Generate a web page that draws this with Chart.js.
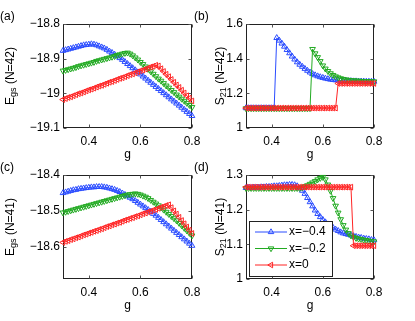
<!DOCTYPE html>
<html><head><meta charset="utf-8">
<script src="https://cdn.jsdelivr.net/npm/chart.js@4.4.1/dist/chart.umd.min.js"></script>
<style>
html,body{margin:0;padding:0;background:#fff;width:415px;height:321px;overflow:hidden}
canvas{position:absolute;left:0;top:0}
</style></head><body>
<canvas id="pa" width="415" height="321"></canvas>
<canvas id="pb" width="415" height="321"></canvas>
<canvas id="pc" width="415" height="321"></canvas>
<canvas id="pd" width="415" height="321"></canvas>
<script>
const gValues = [0.30,0.31,0.32,0.33,0.34,0.35,0.36,0.37,0.38,0.39,0.40,0.41,0.42,0.43,0.44,0.45,0.46,0.47,0.48,0.49,0.50,0.51,0.52,0.53,0.54,0.55,0.56,0.57,0.58,0.59,0.60,0.61,0.62,0.63,0.64,0.65,0.66,0.67,0.68,0.69,0.70,0.71,0.72,0.73,0.74,0.75,0.76,0.77,0.78,0.79,0.80];
const xTicks = [0.4,0.6,0.8];
const seriesLabels = ['x=\u22120.4','x=\u22120.2','x=0'];

// (a) E_gs, N=42
const aBlue = [-18.877,-18.875,-18.873,-18.871,-18.869,-18.867,-18.865,-18.863,-18.861,-18.860,-18.859,-18.858,-18.859,-18.861,-18.864,-18.867,-18.870,-18.874,-18.879,-18.883,-18.888,-18.893,-18.898,-18.903,-18.909,-18.915,-18.921,-18.927,-18.933,-18.939,-18.945,-18.951,-18.957,-18.963,-18.969,-18.975,-18.981,-18.987,-18.993,-18.999,-19.005,-19.011,-19.017,-19.023,-19.029,-19.035,-19.041,-19.047,-19.053,-19.059,-19.065];
const aGreen = [-18.935,-18.933,-18.931,-18.929,-18.927,-18.925,-18.922,-18.920,-18.918,-18.916,-18.914,-18.912,-18.910,-18.907,-18.905,-18.903,-18.901,-18.899,-18.897,-18.895,-18.893,-18.890,-18.888,-18.886,-18.884,-18.883,-18.886,-18.891,-18.897,-18.903,-18.910,-18.916,-18.923,-18.930,-18.937,-18.944,-18.951,-18.958,-18.964,-18.971,-18.978,-18.984,-18.991,-18.997,-19.004,-19.010,-19.016,-19.022,-19.028,-19.034,-19.040];
const aRed = [-19.018,-19.015,-19.012,-19.010,-19.007,-19.004,-19.001,-18.999,-18.996,-18.993,-18.990,-18.988,-18.985,-18.982,-18.979,-18.977,-18.974,-18.971,-18.968,-18.966,-18.963,-18.960,-18.957,-18.955,-18.952,-18.949,-18.946,-18.944,-18.941,-18.938,-18.935,-18.933,-18.930,-18.927,-18.924,-18.922,-18.919,-18.921,-18.929,-18.937,-18.945,-18.952,-18.960,-18.968,-18.976,-18.983,-18.991,-18.999,-19.007,-19.014,-19.022];
const aTicks = [-18.8,-18.9,-19,-19.1];

// (b) S_21, N=42
const bBlue = [1.115,1.115,1.115,1.115,1.115,1.115,1.115,1.115,1.115,1.115,1.115,1.115,1.520,1.505,1.488,1.470,1.451,1.432,1.413,1.396,1.380,1.366,1.354,1.342,1.331,1.321,1.312,1.305,1.299,1.294,1.290,1.286,1.283,1.280,1.278,1.276,1.275,1.274,1.273,1.272,1.271,1.271,1.270,1.270,1.269,1.269,1.269,1.268,1.268,1.268,1.268];
const bGreen = [1.113,1.113,1.113,1.113,1.113,1.113,1.113,1.113,1.113,1.113,1.113,1.113,1.113,1.113,1.113,1.113,1.113,1.113,1.113,1.113,1.113,1.113,1.113,1.113,1.113,1.113,1.455,1.430,1.408,1.385,1.360,1.342,1.328,1.315,1.305,1.297,1.291,1.286,1.282,1.279,1.277,1.275,1.274,1.273,1.272,1.271,1.270,1.270,1.269,1.269,1.268];
const bRed = [1.115,1.115,1.115,1.115,1.115,1.115,1.115,1.115,1.115,1.115,1.115,1.115,1.115,1.115,1.115,1.115,1.115,1.115,1.115,1.115,1.115,1.115,1.115,1.115,1.115,1.115,1.115,1.115,1.115,1.115,1.115,1.115,1.115,1.115,1.115,1.115,1.257,1.257,1.257,1.257,1.257,1.257,1.257,1.257,1.257,1.257,1.257,1.257,1.257,1.257,1.257];
const bTicks = [1,1.2,1.4,1.6];

// (c) E_gs, N=41
const cBlue = [-18.450,-18.448,-18.446,-18.444,-18.442,-18.441,-18.439,-18.438,-18.437,-18.436,-18.435,-18.434,-18.434,-18.433,-18.433,-18.433,-18.434,-18.435,-18.437,-18.439,-18.441,-18.444,-18.447,-18.451,-18.455,-18.459,-18.463,-18.467,-18.472,-18.477,-18.482,-18.487,-18.492,-18.497,-18.502,-18.508,-18.513,-18.519,-18.525,-18.531,-18.537,-18.543,-18.549,-18.555,-18.561,-18.567,-18.573,-18.579,-18.585,-18.591,-18.597];
const cGreen = [-18.505,-18.503,-18.501,-18.499,-18.497,-18.495,-18.493,-18.491,-18.489,-18.487,-18.485,-18.483,-18.481,-18.479,-18.477,-18.475,-18.473,-18.471,-18.469,-18.467,-18.465,-18.463,-18.461,-18.459,-18.457,-18.455,-18.454,-18.453,-18.452,-18.453,-18.455,-18.458,-18.461,-18.465,-18.470,-18.475,-18.480,-18.485,-18.491,-18.497,-18.503,-18.509,-18.515,-18.521,-18.527,-18.534,-18.541,-18.548,-18.555,-18.562,-18.569];
const cRed = [-18.588,-18.585,-18.583,-18.580,-18.578,-18.575,-18.573,-18.570,-18.567,-18.565,-18.562,-18.560,-18.557,-18.555,-18.552,-18.550,-18.547,-18.544,-18.542,-18.539,-18.537,-18.534,-18.532,-18.529,-18.526,-18.524,-18.521,-18.519,-18.516,-18.514,-18.511,-18.508,-18.506,-18.503,-18.501,-18.498,-18.496,-18.493,-18.490,-18.488,-18.485,-18.483,-18.491,-18.500,-18.509,-18.518,-18.527,-18.536,-18.545,-18.554,-18.563];
const cTicks = [-18.4,-18.5,-18.6];

// (d) S_21, N=41
const dBlue = [1.263,1.263,1.263,1.264,1.264,1.264,1.265,1.265,1.266,1.266,1.267,1.268,1.268,1.269,1.270,1.271,1.271,1.272,1.272,1.271,1.268,1.262,1.255,1.246,1.234,1.222,1.210,1.198,1.188,1.179,1.171,1.164,1.158,1.152,1.148,1.143,1.139,1.135,1.132,1.130,1.128,1.126,1.124,1.122,1.120,1.119,1.117,1.116,1.115,1.113,1.112];
const dGreen = [1.262,1.262,1.262,1.262,1.262,1.262,1.262,1.262,1.262,1.262,1.262,1.262,1.262,1.262,1.262,1.262,1.262,1.262,1.262,1.262,1.262,1.262,1.264,1.267,1.270,1.274,1.278,1.282,1.287,1.291,1.294,1.287,1.272,1.254,1.233,1.211,1.191,1.172,1.155,1.142,1.132,1.125,1.121,1.118,1.116,1.115,1.113,1.112,1.110,1.109,1.108];
const dRed = [1.265,1.265,1.265,1.265,1.265,1.265,1.265,1.265,1.265,1.265,1.265,1.265,1.265,1.265,1.265,1.265,1.265,1.265,1.265,1.265,1.265,1.265,1.265,1.265,1.265,1.265,1.265,1.265,1.265,1.265,1.265,1.265,1.265,1.265,1.265,1.265,1.265,1.265,1.265,1.265,1.265,1.265,1.096,1.096,1.096,1.096,1.096,1.096,1.096,1.096,1.096];
const dTicks = [1,1.1,1.2,1.3];

const colors = ['#2a4cff','#22aa22','#ff2424'];
const rotations = [0,180,270];
const FONT = 'Liberation Sans, Arial, Helvetica, sans-serif';
const W = 415, H = 321;

const panels = [
  {id:'pa', area:{left:63,top:24,right:192,bottom:128}, yMin:-19.1, yMax:-18.8, yTicks:aTicks, series:[aBlue,aGreen,aRed], tag:'(a)', tagX:0, yMain:'E', ySub:'gs', yRest:' (N=42)', yTitleX:11, legend:false},
  {id:'pb', area:{left:246,top:24,right:374,bottom:128}, yMin:1, yMax:1.6, yTicks:bTicks, series:[bBlue,bGreen,bRed], tag:'(b)', tagX:194, yMain:'S', ySub:'21', yRest:' (N=42)', yTitleX:221, legend:false},
  {id:'pc', area:{left:63,top:175,right:192,bottom:279}, yMin:-18.69, yMax:-18.4, yTicks:cTicks, series:[cBlue,cGreen,cRed], tag:'(c)', tagX:0, yMain:'E', ySub:'gs', yRest:' (N=41)', yTitleX:11, legend:false},
  {id:'pd', area:{left:246,top:175,right:374,bottom:279}, yMin:1, yMax:1.3, yTicks:dTicks, series:[dBlue,dGreen,dRed], tag:'(d)', tagX:194, yMain:'S', ySub:'21', yRest:' (N=41)', yTitleX:221, legend:true}
];

function fmt(v){ return String(v).replace('-', '\u2212'); }

const framePlugin = {
  id:'frame',
  beforeDatasetsDraw(chart){
    const ctx = chart.ctx, a = chart.chartArea;
    const l = Math.floor(a.left)+0.5, r = Math.floor(a.right)-0.5, t = Math.floor(a.top)+0.5, b = Math.floor(a.bottom)-0.5;
    ctx.save();
    ctx.strokeStyle = '#222'; ctx.lineWidth = 1;
    ctx.strokeRect(l, t, r-l, b-t);
    ctx.strokeStyle = '#555';
    const xs = chart.scales.x, ys = chart.scales.y;
    ctx.beginPath();
    xs.ticks.forEach(tk => {
      const px = Math.round(xs.getPixelForValue(tk.value))+0.5;
      ctx.moveTo(px, b); ctx.lineTo(px, b-3);
      ctx.moveTo(px, t); ctx.lineTo(px, t+3);
    });
    ys.ticks.forEach(tk => {
      const py = Math.round(ys.getPixelForValue(tk.value))+0.5;
      ctx.moveTo(l, py); ctx.lineTo(l+3, py);
      ctx.moveTo(r, py); ctx.lineTo(r-3, py);
    });
    ctx.stroke();
    ctx.restore();
  }
};

const textPlugin = {
  id:'texts',
  afterDraw(chart, args, opts){
    const p = opts.panel, ctx = chart.ctx, a = chart.chartArea;
    ctx.save();
    ctx.fillStyle = '#000';
    ctx.font = '12px ' + FONT;
    ctx.textBaseline = 'middle'; ctx.textAlign = 'left';
    ctx.fillText(p.tag, p.tagX, a.top - 7);
    ctx.textAlign = 'center'; ctx.textBaseline = 'alphabetic';
    ctx.fillText('g', (a.left + a.right)/2, a.bottom + 30);
    ctx.translate(p.yTitleX, (a.top + a.bottom)/2);
    ctx.rotate(-Math.PI/2);
    ctx.textAlign = 'left'; ctx.textBaseline = 'middle';
    ctx.font = '12px ' + FONT;
    const w1 = ctx.measureText(p.yMain).width;
    ctx.font = '9px ' + FONT;
    const w2 = ctx.measureText(p.ySub).width;
    ctx.font = '12px ' + FONT;
    const w3 = ctx.measureText(p.yRest).width;
    let x0 = -(w1 + w2 + w3)/2;
    ctx.fillText(p.yMain, x0, 0);
    ctx.font = '9px ' + FONT;
    ctx.fillText(p.ySub, x0 + w1, 3);
    ctx.font = '12px ' + FONT;
    ctx.fillText(p.yRest, x0 + w1 + w2, 0);
    ctx.restore();

    if (p.legend) {
      ctx.save();
      const bx = a.left + 3, bh = 55, bw = 83, by = a.bottom - 3 - bh;
      ctx.fillStyle = '#fff';
      ctx.fillRect(bx, by, bw, bh);
      ctx.strokeStyle = '#222'; ctx.lineWidth = 1;
      ctx.strokeRect(Math.floor(bx)+0.5, Math.floor(by)+0.5, bw, bh);
      chart.data.datasets.forEach((ds, i) => {
        const cy = by + 11 + i*16.5;
        ctx.strokeStyle = ds.borderColor; ctx.lineWidth = 1;
        ctx.beginPath(); ctx.moveTo(bx+6, cy); ctx.lineTo(bx+38, cy); ctx.stroke();
        ctx.fillStyle = 'rgba(0,0,0,0)';
        Chart.helpers.drawPoint(ctx, {pointStyle:'triangle', rotation:ds.pointRotation, radius:3.2, borderWidth:1}, bx+22, cy);
        ctx.fillStyle = '#000';
        ctx.font = '12px ' + FONT;
        ctx.textAlign = 'left'; ctx.textBaseline = 'middle';
        ctx.fillText(ds.label, bx+40, cy);
      });
      ctx.restore();
    }
  }
};

panels.forEach(p => {
  const datasets = p.series.map((vals, i) => ({
    label: seriesLabels[i],
    data: gValues.map((g, j) => ({x: g, y: vals[j]})),
    borderColor: colors[i],
    backgroundColor: 'rgba(0,0,0,0)',
    borderWidth: 1,
    pointStyle: 'triangle',
    pointRotation: rotations[i],
    pointRadius: 3.3,
    pointBorderWidth: 1,
    pointBorderColor: colors[i],
    pointBackgroundColor: 'rgba(0,0,0,0)',
    tension: 0,
    clip: false,
    order: 3 - i
  }));
  const tickFont = {family: FONT, size: 12};
  new Chart(document.getElementById(p.id), {
    type: 'line',
    data: {datasets},
    options: {
      responsive: false, animation: false, devicePixelRatio: 1, events: [],
      layout: {padding: {left: 0, top: p.area.top, right: W - p.area.right, bottom: 0}},
      plugins: {legend: {display: false}, tooltip: {enabled: false}, texts: {panel: p}},
      scales: {
        x: {
          type: 'linear', min: 0.3, max: 0.8,
          afterBuildTicks: s => { s.ticks = xTicks.map(v => ({value: v})); },
          afterFit: s => { s.height = H - p.area.bottom; },
          grid: {display: false, drawTicks: false}, border: {display: false},
          ticks: {padding: 6, color: '#000', font: tickFont, maxRotation: 0, autoSkip: false, callback: v => fmt(v)}
        },
        y: {
          type: 'linear', min: p.yMin, max: p.yMax,
          afterBuildTicks: s => { s.ticks = p.yTicks.map(v => ({value: v})); },
          afterFit: s => { s.width = p.area.left; },
          grid: {display: false, drawTicks: false}, border: {display: false},
          ticks: {padding: 3, color: '#000', font: tickFont, autoSkip: false, callback: v => fmt(v)}
        }
      }
    },
    plugins: [framePlugin, textPlugin]
  });
});
</script>
</body></html>
